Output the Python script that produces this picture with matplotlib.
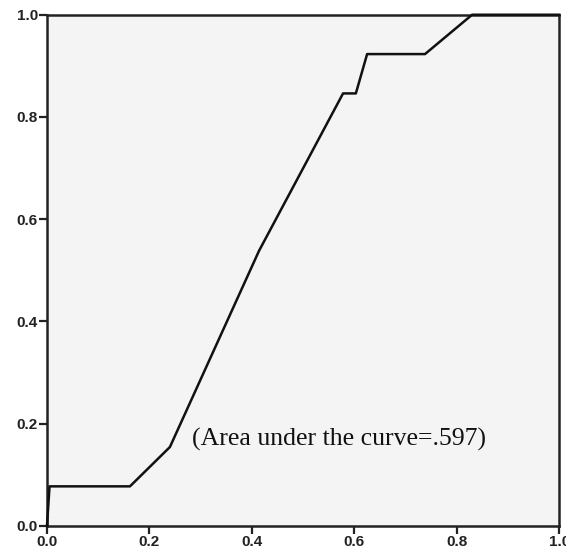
import matplotlib
matplotlib.use('Agg')
import matplotlib.pyplot as plt

# ROC curve points (sensitivity vs 1 - specificity)
fpr = [0.0, 0.005, 0.162, 0.240, 0.414, 0.578, 0.603, 0.625, 0.738, 0.830, 1.0]
tpr = [0.0, 0.077, 0.077, 0.154, 0.538, 0.846, 0.846, 0.923, 0.923, 1.0, 1.0]
ticks = [0.0, 0.2, 0.4, 0.6, 0.8, 1.0]
tick_labels = ['0.0', '0.2', '0.4', '0.6', '0.8', '1.0']
auc_text = '(Area under the curve=.597)'

fig = plt.figure(figsize=(5.66, 5.56), dpi=100)
ax = fig.add_axes([0.083, 0.0545, 0.905, 0.919])
ax.set_facecolor('#f4f4f4')

ax.plot(fpr, tpr, color='#111111', linewidth=1.8, clip_on=False, zorder=3)

ax.set_xlim(0, 1)
ax.set_ylim(0, 1)
ax.set_xticks(ticks)
ax.set_yticks(ticks)
ax.set_xticklabels(tick_labels, family='Liberation Sans', fontsize=11, fontweight='bold', color='#222222')
ax.set_yticklabels(tick_labels, family='Liberation Sans', fontsize=11, fontweight='bold', color='#222222')
ax.tick_params(direction='out', length=6, width=1.6, pad=0.5, colors='#222222')

for s in ax.spines.values():
    s.set_linewidth(1.8)
    s.set_color('#222222')

ax.text(0.283, 0.168, auc_text, family='Liberation Serif', fontsize=18.5,
        va='center', ha='left', color='#111111')

fig.savefig('out.png', dpi=100)
